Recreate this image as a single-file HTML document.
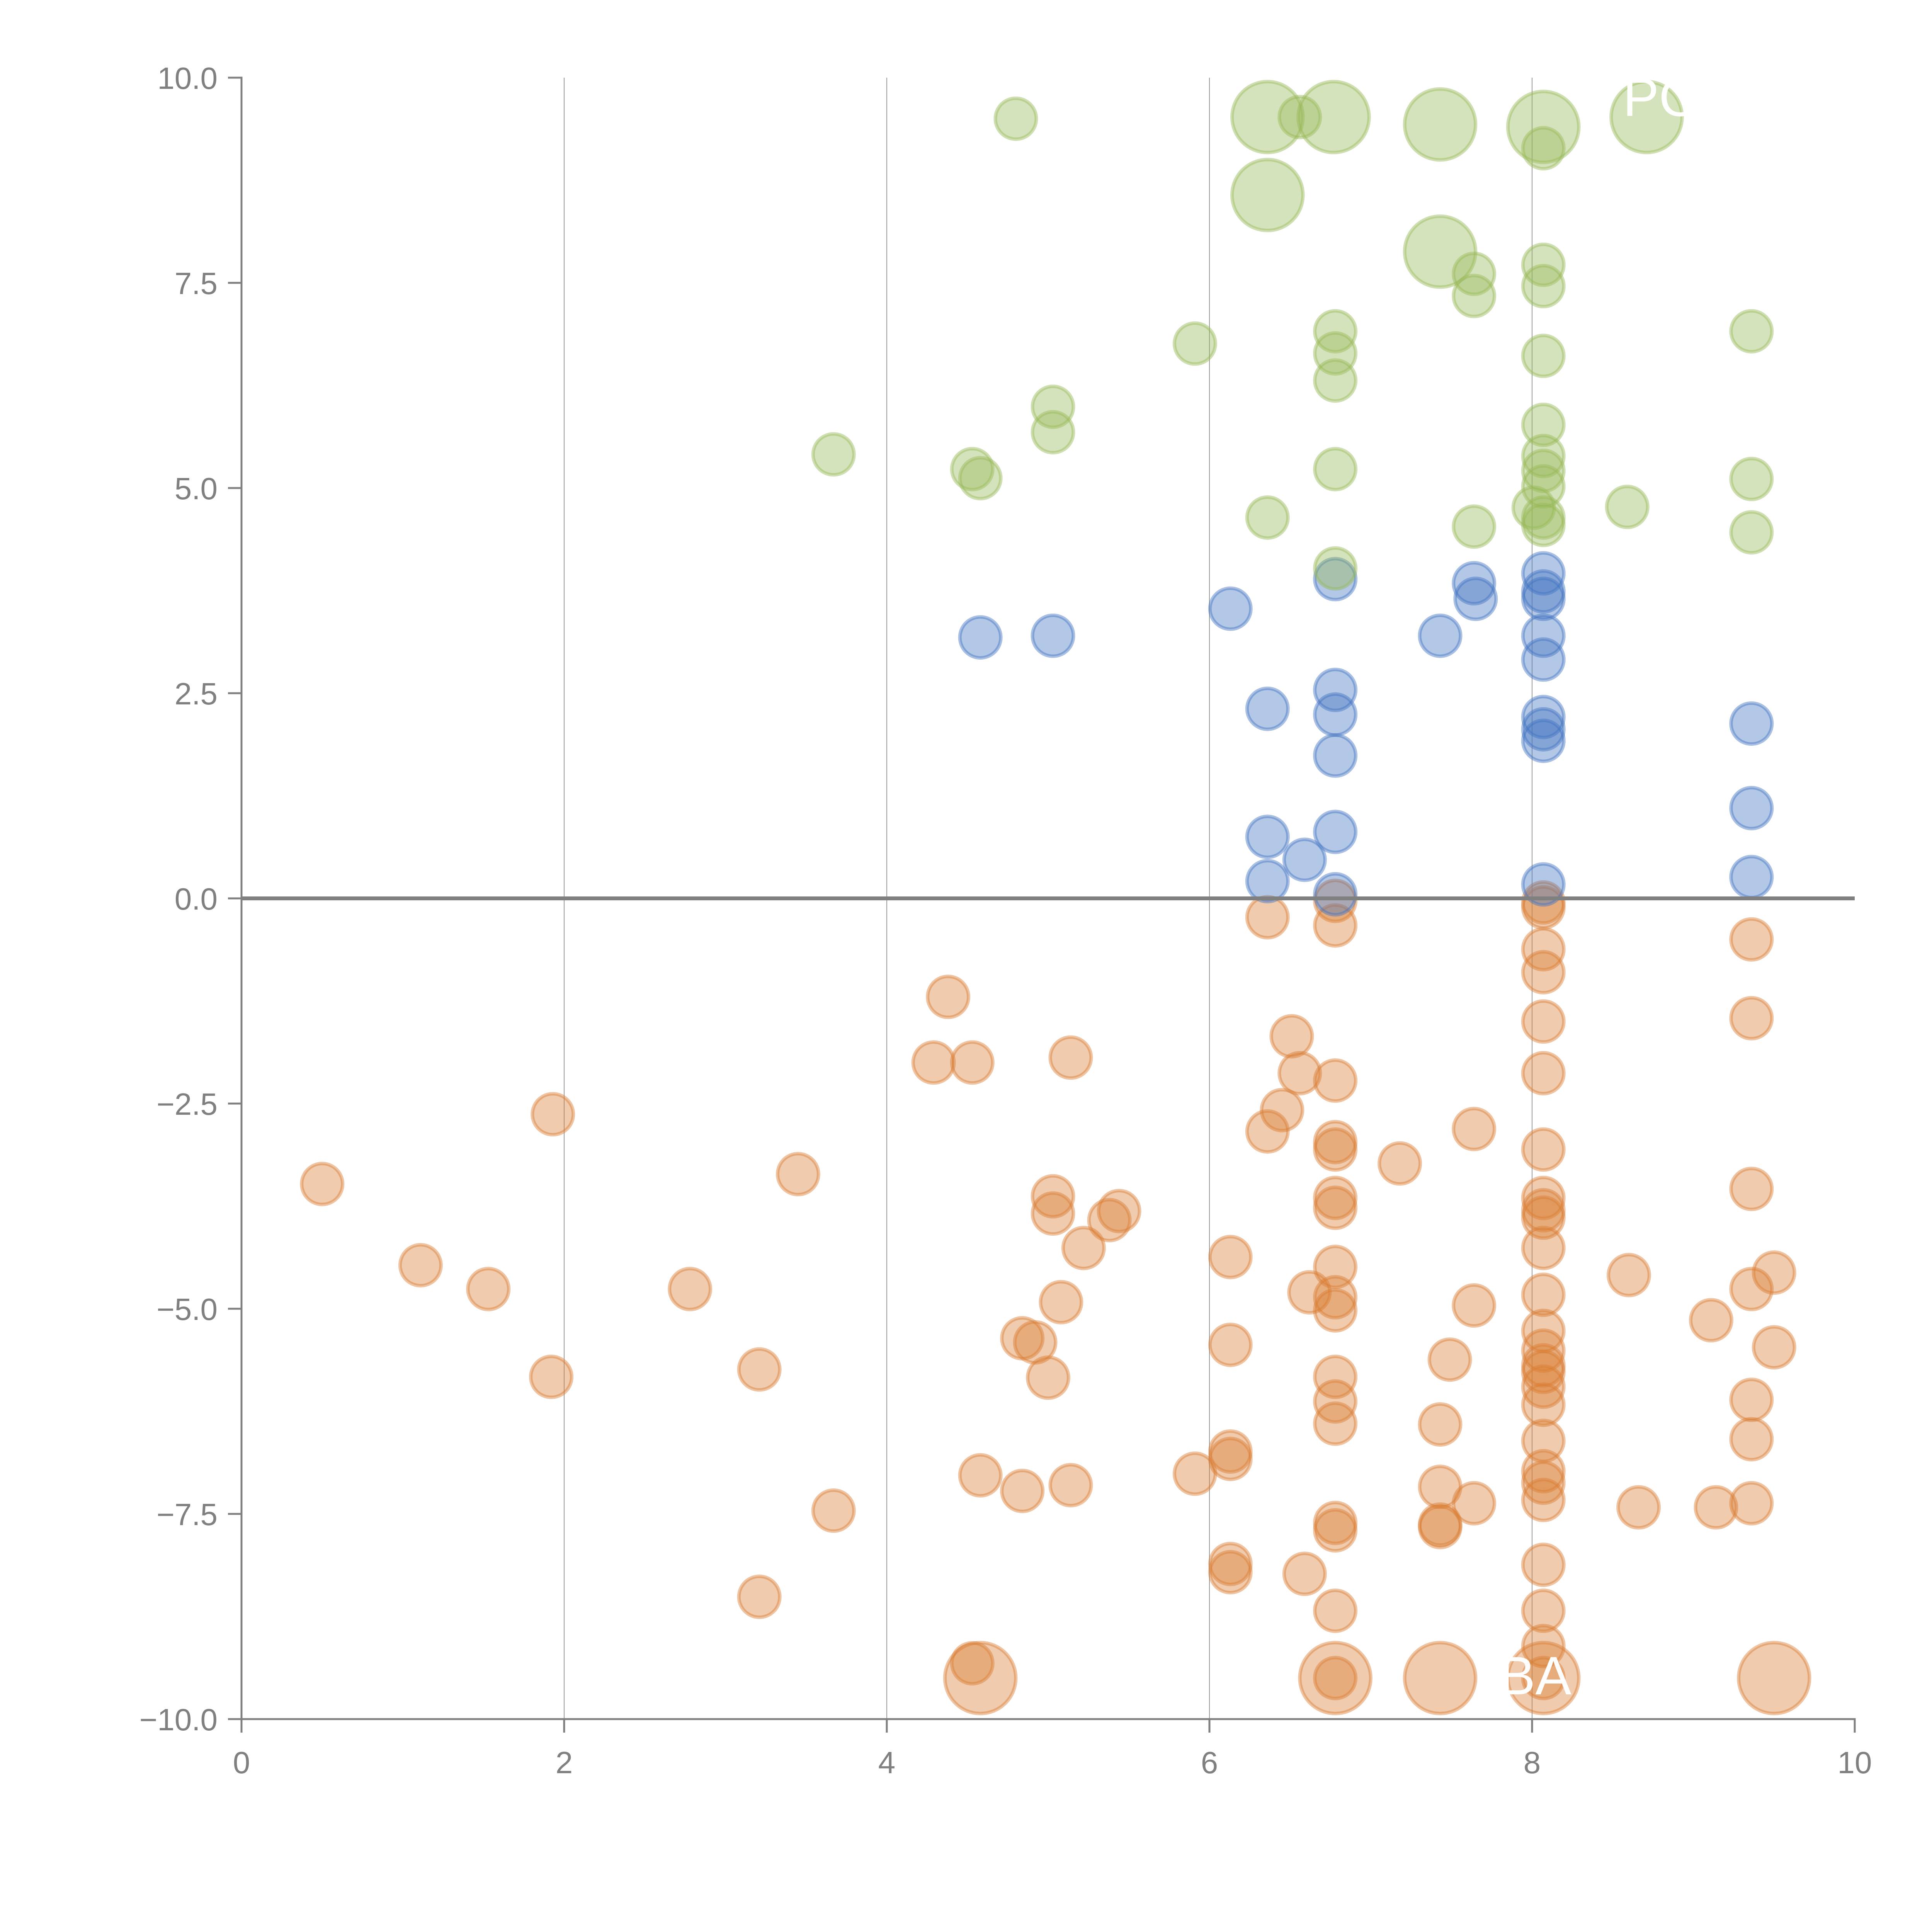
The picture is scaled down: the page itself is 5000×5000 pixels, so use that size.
<!DOCTYPE html>
<html><head><meta charset="utf-8"><style>
html,body{margin:0;padding:0;background:#fff;}
svg{display:block;font-family:"Liberation Sans",Arial,sans-serif;}
</style></head><body>
<svg id="chart" width="5000" height="5000" viewBox="0 0 5000 5000" xmlns="http://www.w3.org/2000/svg">
<rect width="5000" height="5000" fill="#fff"/>
<g id="grid"></g>
<g id="pts"></g>
<g id="axes"></g>
<text x="4200" y="300" font-size="140" fill="#fff">PO</text>
<text x="3880" y="4385" font-size="140" fill="#fff">BA</text>
</svg>
<script>
const xTicks=[0,2,4,6,8,10];
const yTicks=[-10,-7.5,-5,-2.5,0,2.5,5,7.5,10];
const greenX=[4.8,6.36,6.56,6.77,7.43,8.07,8.07,8.71,6.36,7.43,7.64,8.07,7.64,8.07,9.36,5.91,6.78,6.78,6.78,8.07,5.03,5.03,3.67,4.53,4.58,6.78,8.07,8.07,8.07,8.07,9.36,8.01,8.59,6.36,7.64,8.07,8.07,9.36,6.78];
const greenY=[9.5,9.52,9.52,9.52,9.43,9.4,9.14,9.52,8.57,7.88,7.61,7.72,7.34,7.46,6.91,6.76,6.91,6.64,6.31,6.61,5.99,5.68,5.41,5.23,5.12,5.23,5.77,5.39,5.21,5.02,5.11,4.76,4.77,4.64,4.53,4.64,4.55,4.46,4.02];
const greenW=[1,3,1,3,3,3,1,3,3,3,1,1,1,1,1,1,1,1,1,1,1,1,1,1,1,1,1,1,1,1,1,1,1,1,1,1,1,1,1];
const blueX=[6.78,7.64,7.65,8.07,8.07,8.07,6.13,4.58,5.03,7.43,8.07,8.07,6.78,6.36,6.78,8.07,8.07,8.07,9.36,6.78,9.36,6.36,6.78,6.59,6.36,9.36,6.78,8.07];
const blueY=[3.89,3.84,3.65,3.96,3.74,3.65,3.53,3.18,3.2,3.2,3.2,2.91,2.54,2.31,2.24,2.21,2.06,1.92,2.13,1.74,1.1,0.75,0.81,0.47,0.21,0.26,0.05,0.17];
const orangeX=[6.36,6.78,6.78,8.07,8.07,9.36,8.07,8.07,9.36,8.07,4.38,6.51,4.29,4.53,5.14,6.56,6.78,8.07,1.93,6.45,6.36,7.64,6.78,6.78,8.07,7.18,3.45,0.5,9.36,5.03,6.78,8.07,6.78,8.07,8.07,5.44,5.38,5.03,5.22,8.07,6.13,1.11,6.78,8.6,9.5,1.53,2.78,9.36,6.62,6.78,8.07,5.08,6.78,7.64,9.11,8.07,4.84,4.92,6.13,9.5,8.07,7.49,8.07,8.07,3.21,1.92,5.0,6.78,8.07,9.36,6.78,8.07,6.78,7.43,8.07,9.36,6.13,6.13,8.07,5.91,4.58,8.07,5.14,7.43,4.84,8.07,7.64,9.36,8.66,9.14,3.67,6.78,6.78,7.43,7.43,8.07,6.13,6.13,6.59,3.21,6.78,8.07,8.07,4.53,4.58,6.78,6.78,7.43,8.07,9.5,8.07];
const orangeY=[-0.23,-0.03,-0.33,-0.05,-0.11,-0.5,-0.62,-0.9,-1.46,-1.5,-1.2,-1.68,-2.0,-2.0,-1.94,-2.13,-2.22,-2.13,-2.63,-2.58,-2.84,-2.81,-2.97,-3.06,-3.06,-3.23,-3.36,-3.48,-3.54,-3.63,-3.65,-3.65,-3.77,-3.8,-3.89,-3.81,-3.92,-3.84,-4.26,-4.26,-4.37,-4.47,-4.49,-4.59,-4.56,-4.76,-4.76,-4.76,-4.8,-4.86,-4.83,-4.92,-5.02,-4.96,-5.14,-5.27,-5.36,-5.41,-5.44,-5.47,-5.51,-5.62,-5.69,-5.77,-5.74,-5.83,-5.84,-5.83,-5.95,-6.11,-6.13,-6.17,-6.4,-6.41,-6.61,-6.59,-6.74,-6.83,-6.98,-7.01,-7.03,-7.12,-7.15,-7.17,-7.22,-7.33,-7.37,-7.37,-7.42,-7.42,-7.46,-7.61,-7.7,-7.63,-7.66,-8.12,-8.11,-8.21,-8.23,-8.51,-8.68,-8.68,-9.11,-9.32,-9.5,-9.5,-9.5,-9.5,-9.5,-9.5,-9.5];
const orangeW=[1,1,1,1,1,1,1,1,1,1,1,1,1,1,1,1,1,1,1,1,1,1,1,1,1,1,1,1,1,1,1,1,1,1,1,1,1,1,1,1,1,1,1,1,1,1,1,1,1,1,1,1,1,1,1,1,1,1,1,1,1,1,1,1,1,1,1,1,1,1,1,1,1,1,1,1,1,1,1,1,1,1,1,1,1,1,1,1,1,1,1,1,1,1,1,1,1,1,1,1,1,1,1,1,3,3,1,3,3,3,1];
</script>
<script>
const NS="http://www.w3.org/2000/svg";
const X0=625,X1=4800,Y0=4449,Y1=201;
function sx(v){return X0+(v-0)/(10-0)*(X1-X0);}
function sy(v){return Y0-(v+10)/20*(Y0-Y1);}
function mk(tag,attrs,parent){const e=document.createElementNS(NS,tag);for(const k in attrs)e.setAttribute(k,attrs[k]);parent.appendChild(e);return e;}
const grid=document.getElementById('grid'),axes=document.getElementById('axes'),pts=document.getElementById('pts');
xTicks.forEach(t=>{
  if(t>0&&t<10){const l=mk('line',{x1:sx(t),x2:sx(t),y1:Y1,y2:Y0,stroke:'#999','stroke-width':2},grid);
  
  }
  const tk=mk('line',{x1:sx(t),x2:sx(t),y1:Y0,y2:Y0+35,stroke:'#808080','stroke-width':5},axes);
  
  
  const tx=mk('text',{x:sx(t),y:Y0+140,'font-size':80,fill:'#808080','text-anchor':'middle'},axes);
  tx.textContent=String(t);
  
  
});
yTicks.forEach(t=>{
  const tk=mk('line',{x1:X0-35,x2:X0,y1:sy(t),y2:sy(t),stroke:'#808080','stroke-width':5},axes);
  
  
  const tx=mk('text',{x:X0-62,y:sy(t)+29,'font-size':80,fill:'#808080','text-anchor':'end'},axes);
  tx.textContent=(t<0?'\u2212':'')+Math.abs(t).toFixed(1);
  
  
});
const ax=mk('path',{d:`M${X0-35} ${Y1} H${X0} V${Y0} H${X1} V${Y0+35}`,fill:'none',stroke:'#808080','stroke-width':5},axes);


function series(xs,ys,ws,col,name){
  xs.forEach((x,i)=>{
    const w=ws?ws[i]:1;
    const c=mk('circle',{cx:sx(x),cy:sy(ys[i]),r:53*Math.sqrt(w),fill:col,'fill-opacity':0.4,stroke:col,'stroke-opacity':0.45,'stroke-width':9},pts);
    
    
  });
}
series(orangeX,orangeY,orangeW,'#d97d32','orange-point');
series(blueX,blueY,null,'#4173c0','blue-point');
series(greenX,greenY,greenW,'#96b957','green-point');
const z=mk('line',{x1:X0,x2:X1,y1:sy(0),y2:sy(0),stroke:'#808080','stroke-width':10},axes);


</script>
</body></html>
